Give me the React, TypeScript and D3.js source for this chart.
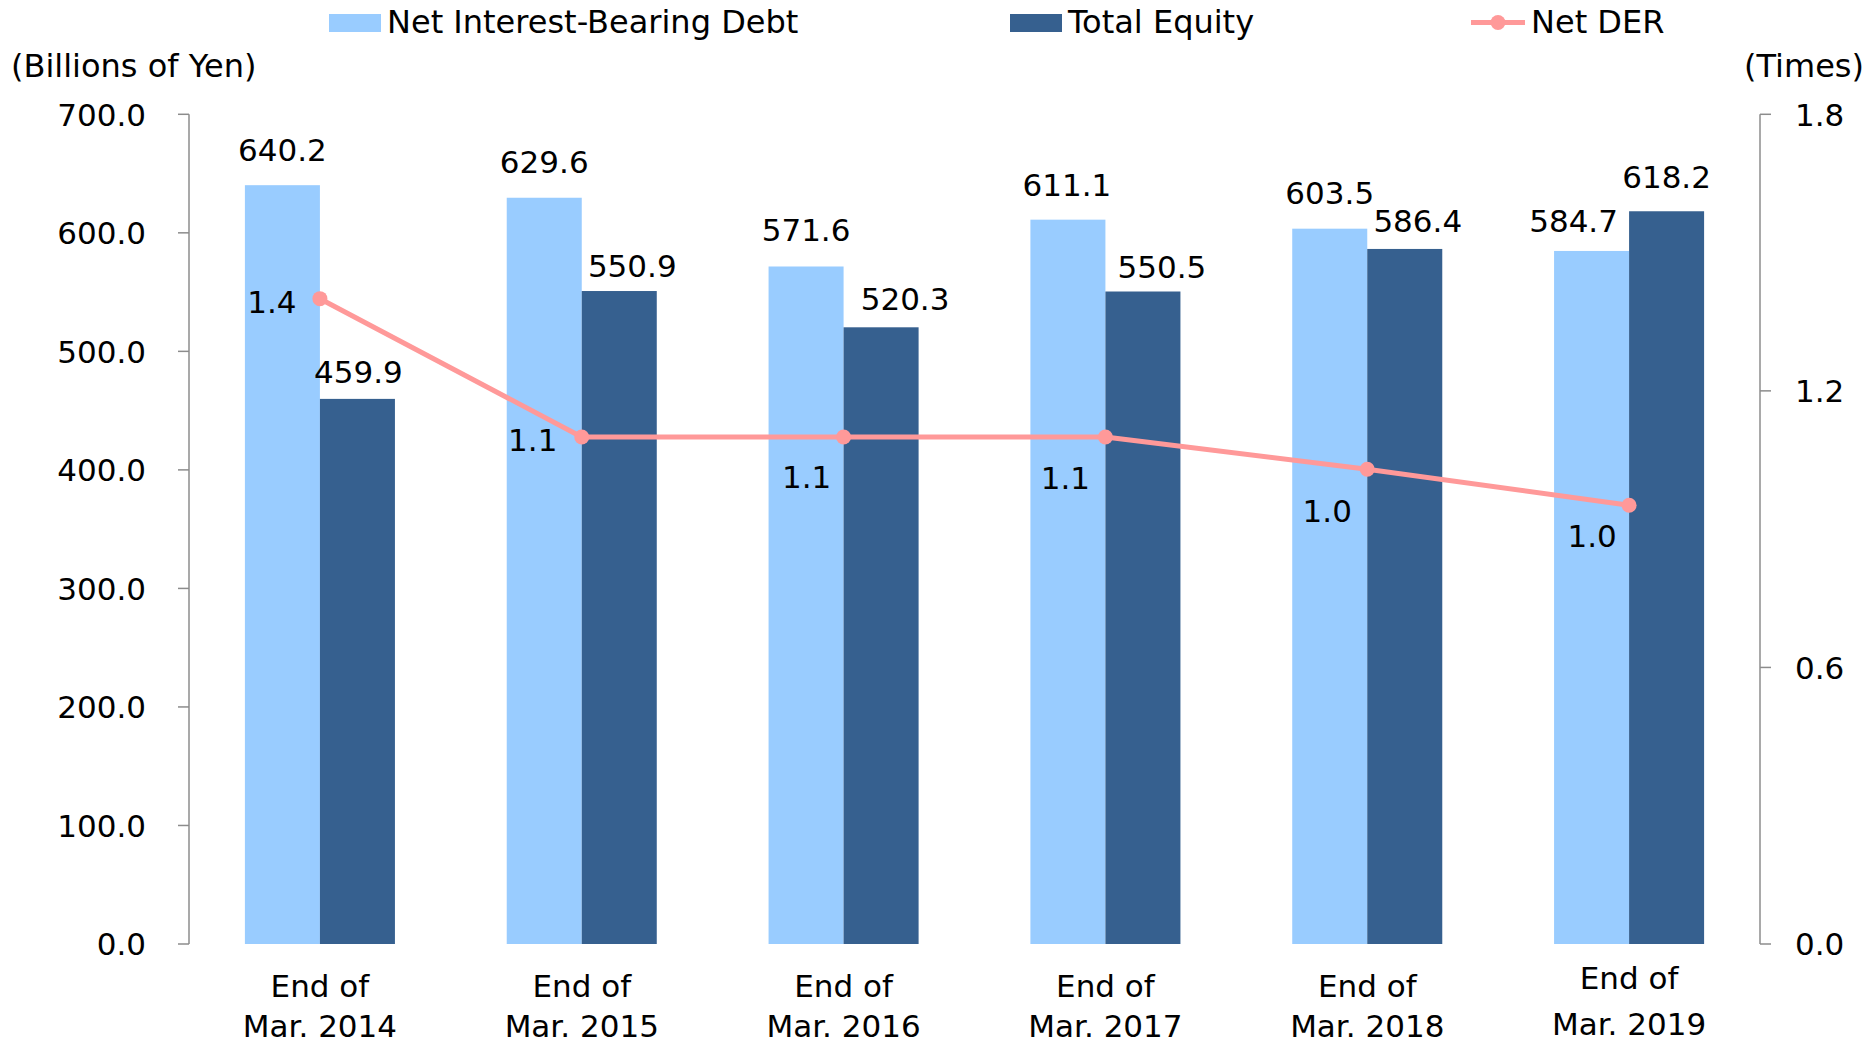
import React from "react";
import * as d3 from "d3";

// Fiscal year-end categories (two-line labels)
const categoryLines: string[][] = [
  ["End of", "Mar. 2014"],
  ["End of", "Mar. 2015"],
  ["End of", "Mar. 2016"],
  ["End of", "Mar. 2017"],
  ["End of", "Mar. 2018"],
  ["End of", "Mar. 2019"],
];
const categories = categoryLines.map((l) => l.join(" "));

// Billions of yen
const netDebt = [640.2, 629.6, 571.6, 611.1, 603.5, 584.7];
const totalEquity = [459.9, 550.9, 520.3, 550.5, 586.4, 618.2];
// Times
const netDER = [1.4, 1.1, 1.1, 1.1, 1.03, 0.952];

const leftTicks = [0, 100, 200, 300, 400, 500, 600, 700];
const rightTicks = [0, 0.6, 1.2, 1.8];

// Hand-placed label nudges (px) to keep labels clear of each other
const debtLabelNudge: [number, number][] = [[0, 1], [0, 0], [0, -1], [-1, 1], [0, 0], [-18, 6]];
const equityLabelNudge: [number, number][] = [[1, 0], [13, 2], [24, -2], [19, 2], [13, -1], [0, -8]];
const derLabelNudge: [number, number][] = [[-48, 3], [-49, 3], [-37, 40], [-40, 41], [-40, 41], [-37, 31]];

const W = 1874;
const H = 1043;
const FONT = "'DejaVu Sans', Verdana, sans-serif";
const FS = 31;
const FS_TITLE = 32;
const LIGHT = "#99CCFF";
const DARK = "#36608F";
const PINK = "#FF9999";
const AXIS = "#8C8C8C";

export default function App() {
  const x0 = d3
    .scaleBand<string>()
    .domain(categories)
    .range([189, 1760])
    .paddingInner(0.427)
    .paddingOuter(0.2135);
  const x1 = d3
    .scaleBand<string>()
    .domain(["debt", "equity"])
    .range([0, x0.bandwidth()])
    .padding(0);
  const y = d3.scaleLinear().domain([0, 700]).range([944, 114.3]);
  const yR = d3.scaleLinear().domain([0, 1.8]).range([944, 114.3]);
  const fmt1 = d3.format(".1f");

  const center = (c: string) => (x0(c) ?? 0) + x0.bandwidth() / 2;
  const line = d3
    .line<number>()
    .x((_, i) => center(categories[i]))
    .y((d) => yR(d));

  const capHalf = FS * 0.365;

  return (
    <svg
      width={W}
      height={H}
      style={{ position: "absolute", left: 0, top: 0, display: "block", background: "#fff" }}
      fontFamily={FONT}
      fontSize={FS}
    >
      <rect width={W} height={H} fill="#fff" />

      {/* Legend */}
      <g fontSize={FS_TITLE}>
        <rect x={329} y={14} width={52} height={18} fill={LIGHT} />
        <text x={387} y={33}>Net Interest-Bearing Debt</text>
        <rect x={1010} y={14} width={52} height={18} fill={DARK} />
        <text x={1068} y={33}>Total Equity</text>
        <line x1={1471} x2={1525} y1={22.5} y2={22.5} stroke={PINK} strokeWidth={5} />
        <circle cx={1498} cy={22.5} r={7.5} fill={PINK} />
        <text x={1531} y={33}>Net DER</text>

        {/* Axis titles */}
        <text x={11} y={77}>(Billions of Yen)</text>
        <text x={1864} y={77} textAnchor="end">(Times)</text>
      </g>

      {/* Left axis */}
      <line x1={189} x2={189} y1={y(700)} y2={y(0)} stroke={AXIS} strokeWidth={1.5} />
      {leftTicks.map((t) => (
        <g key={"l" + t}>
          <line x1={178} x2={189} y1={y(t)} y2={y(t)} stroke={AXIS} strokeWidth={1.5} />
          <text x={146} y={y(t) + capHalf} textAnchor="end">
            {fmt1(t)}
          </text>
        </g>
      ))}

      {/* Right axis */}
      <line x1={1760} x2={1760} y1={yR(1.8)} y2={yR(0)} stroke={AXIS} strokeWidth={1.5} />
      {rightTicks.map((t) => (
        <g key={"r" + t}>
          <line x1={1760} x2={1771} y1={yR(t)} y2={yR(t)} stroke={AXIS} strokeWidth={1.5} />
          <text x={1795} y={yR(t) + capHalf}>{fmt1(t)}</text>
        </g>
      ))}

      {/* Bars */}
      {categories.map((c, i) => {
        const gx = x0(c) ?? 0;
        const bw = x1.bandwidth();
        const dx = gx + (x1("debt") ?? 0);
        const ex = gx + (x1("equity") ?? 0);
        return (
          <g key={"b" + i}>
            <rect x={dx} y={y(netDebt[i])} width={bw} height={y(0) - y(netDebt[i])} fill={LIGHT} />
            <rect x={ex} y={y(totalEquity[i])} width={bw} height={y(0) - y(totalEquity[i])} fill={DARK} />
          </g>
        );
      })}

      {/* Bar value labels */}
      {categories.map((c, i) => {
        const gx = x0(c) ?? 0;
        const bw = x1.bandwidth();
        const dcx = gx + (x1("debt") ?? 0) + bw / 2;
        const ecx = gx + (x1("equity") ?? 0) + bw / 2;
        return (
          <g key={"v" + i} textAnchor="middle">
            <text x={dcx + debtLabelNudge[i][0]} y={y(netDebt[i]) - 36 + debtLabelNudge[i][1] + capHalf}>
              {fmt1(netDebt[i])}
            </text>
            <text x={ecx + equityLabelNudge[i][0]} y={y(totalEquity[i]) - 27 + equityLabelNudge[i][1] + capHalf}>
              {fmt1(totalEquity[i])}
            </text>
          </g>
        );
      })}

      {/* Net DER line */}
      <path d={line(netDER) ?? ""} fill="none" stroke={PINK} strokeWidth={5} strokeLinejoin="round" />
      {netDER.map((v, i) => (
        <circle key={"m" + i} cx={center(categories[i])} cy={yR(v)} r={7.5} fill={PINK} />
      ))}
      {netDER.map((v, i) => (
        <text
          key={"dl" + i}
          x={center(categories[i]) + derLabelNudge[i][0]}
          y={yR(v) + derLabelNudge[i][1] + capHalf}
          textAnchor="middle"
        >
          {fmt1(v)}
        </text>
      ))}

      {/* Category labels */}
      {categoryLines.map((lines, i) => {
        const cx = center(categories[i]);
        const last = i === categoryLines.length - 1;
        const y1 = last ? 989 : 997;
        const y2 = last ? 1035 : 1037;
        return (
          <text key={"c" + i} textAnchor="middle">
            <tspan x={cx} y={y1}>{lines[0]}</tspan>
            <tspan x={cx} y={y2}>{lines[1]}</tspan>
          </text>
        );
      })}
    </svg>
  );
}
